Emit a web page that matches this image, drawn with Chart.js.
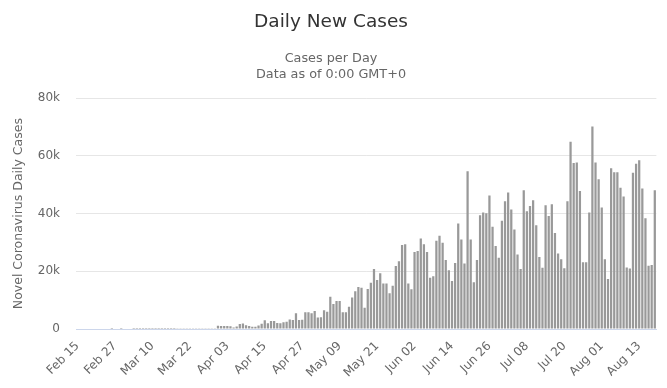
<!DOCTYPE html>
<html><head><meta charset="utf-8">
<script src="https://cdn.jsdelivr.net/npm/chart.js@4.4.1/dist/chart.umd.min.js"></script>
<style>html,body{margin:0;padding:0;background:#fff;}#wrap{width:667px;height:388px;}</style>
</head><body><div id="wrap"><canvas id="c" width="667" height="388"></canvas></div>
<script>
const categories = [
'Feb 15','Feb 16','Feb 17','Feb 18','Feb 19','Feb 20','Feb 21','Feb 22','Feb 23','Feb 24','Feb 25','Feb 26','Feb 27','Feb 28','Feb 29',
'Mar 01','Mar 02','Mar 03','Mar 04','Mar 05','Mar 06','Mar 07','Mar 08','Mar 09','Mar 10','Mar 11','Mar 12','Mar 13','Mar 14','Mar 15','Mar 16','Mar 17','Mar 18','Mar 19','Mar 20','Mar 21','Mar 22','Mar 23','Mar 24','Mar 25','Mar 26','Mar 27','Mar 28','Mar 29','Mar 30','Mar 31',
'Apr 01','Apr 02','Apr 03','Apr 04','Apr 05','Apr 06','Apr 07','Apr 08','Apr 09','Apr 10','Apr 11','Apr 12','Apr 13','Apr 14','Apr 15','Apr 16','Apr 17','Apr 18','Apr 19','Apr 20','Apr 21','Apr 22','Apr 23','Apr 24','Apr 25','Apr 26','Apr 27','Apr 28','Apr 29','Apr 30',
'May 01','May 02','May 03','May 04','May 05','May 06','May 07','May 08','May 09','May 10','May 11','May 12','May 13','May 14','May 15','May 16','May 17','May 18','May 19','May 20','May 21','May 22','May 23','May 24','May 25','May 26','May 27','May 28','May 29','May 30','May 31',
'Jun 01','Jun 02','Jun 03','Jun 04','Jun 05','Jun 06','Jun 07','Jun 08','Jun 09','Jun 10','Jun 11','Jun 12','Jun 13','Jun 14','Jun 15','Jun 16','Jun 17','Jun 18','Jun 19','Jun 20','Jun 21','Jun 22','Jun 23','Jun 24','Jun 25','Jun 26','Jun 27','Jun 28','Jun 29','Jun 30',
'Jul 01','Jul 02','Jul 03','Jul 04','Jul 05','Jul 06','Jul 07','Jul 08','Jul 09','Jul 10','Jul 11','Jul 12','Jul 13','Jul 14','Jul 15','Jul 16','Jul 17','Jul 18','Jul 19','Jul 20','Jul 21','Jul 22','Jul 23','Jul 24','Jul 25','Jul 26','Jul 27','Jul 28','Jul 29','Jul 30','Jul 31',
'Aug 01','Aug 02','Aug 03','Aug 04','Aug 05','Aug 06','Aug 07','Aug 08','Aug 09','Aug 10','Aug 11','Aug 12','Aug 13','Aug 14','Aug 15','Aug 16','Aug 17','Aug 18'
];
const dailyCases = [
0,0,0,0,0,0,0,0,0,0,0,1,0,0,1,
0,0,0,1,4,5,6,5,5,9,18,25,21,23,40,34,40,50,55,60,55,70,65,60,55,80,85,80,70,70,1100,
1000,1050,1000,950,550,900,1700,1900,1300,1000,800,800,1200,1800,3000,2000,2800,2800,2100,2000,2300,2500,3300,3100,5500,3100,3200,5800,5800,5500,
6200,4000,4100,6500,6000,11200,8700,9700,9700,5800,5800,7700,10900,13100,14600,14300,7400,13900,16000,20800,17000,19300,15800,15800,12400,15000,21800,23500,29100,29400,15800,
13800,26700,27000,31400,29400,26700,17800,18300,30600,32300,29900,23900,20400,16600,22900,36600,31000,22700,54700,31000,16200,23900,39400,40400,40100,46300,35400,28800,24700,37500,
44300,47300,41400,34500,25800,20800,48100,40800,42600,44600,36000,25000,21200,42900,39200,43200,33300,26200,24200,21100,44300,64900,57500,57700,47800,23100,23100,40400,70200,57700,51900,
42100,24200,17300,55700,54300,54300,49000,45900,21300,21000,54200,57300,58500,48700,38400,21900,22200,48100
];
const xTickLabels = ['Feb 15','Feb 27','Mar 10','Mar 22','Apr 03','Apr 15','Apr 27','May 09','May 21','Jun 02','Jun 14','Jun 26','Jul 08','Jul 20','Aug 01','Aug 13'];
const yTickValues = [0,20000,40000,60000,80000];
const yTickLabels = ['0','20k','40k','60k','80k'];
const chartTitle = 'Daily New Cases';
const chartSubtitle = ['Cases per Day','Data as of 0:00 GMT+0'];
const yAxisTitle = 'Novel Coronavirus Daily Cases';

Chart.defaults.font.family = "'DejaVu Sans', sans-serif";
new Chart(document.getElementById('c'), {
  type: 'bar',
  data: { labels: categories, datasets: [{ data: dailyCases, backgroundColor: '#999999', barPercentage: 0.72, categoryPercentage: 1 }] },
  options: {
    responsive: false, animation: false, devicePixelRatio: 1,
    layout: { padding: { left: 0, right: 5, top: 0, bottom: 0 } },
    plugins: {
      legend: { display: false }, tooltip: { enabled: false },
      title: { display: true, text: chartTitle, color: '#333333', font: { size: 18.5, weight: 'normal' }, padding: { top: 11, bottom: 0 } },
      subtitle: { display: true, text: chartSubtitle, color: '#666666', font: { size: 12.8, lineHeight: '16px' }, padding: { top: 17, bottom: 16 } }
    },
    scales: {
      x: {
        grid: { display: false },
        border: { display: true, color: '#ccd6eb' },
        ticks: { autoSkip: false, maxRotation: 45, minRotation: 45, color: '#666666', font: { size: 12 }, padding: 2,
          callback(v, i) { const l = categories[i]; return xTickLabels.includes(l) ? l : ''; } },
        afterFit(s) { s.height = 59; }
      },
      y: {
        min: 0, max: 80000,
        grid: { color: '#e6e6e6', drawTicks: false },
        border: { display: false },
        ticks: { stepSize: 20000, color: '#666666', font: { size: 12 }, padding: 16,
          callback(v) { const i = yTickValues.indexOf(v); return i >= 0 ? yTickLabels[i] : ''; } },
        title: { display: true, text: yAxisTitle, color: '#666666', font: { size: 12.5 }, padding: { top: 11, bottom: 0 } },
        afterFit(s) { s.width = 76; }
      }
    }
  }
});
</script></body></html>
